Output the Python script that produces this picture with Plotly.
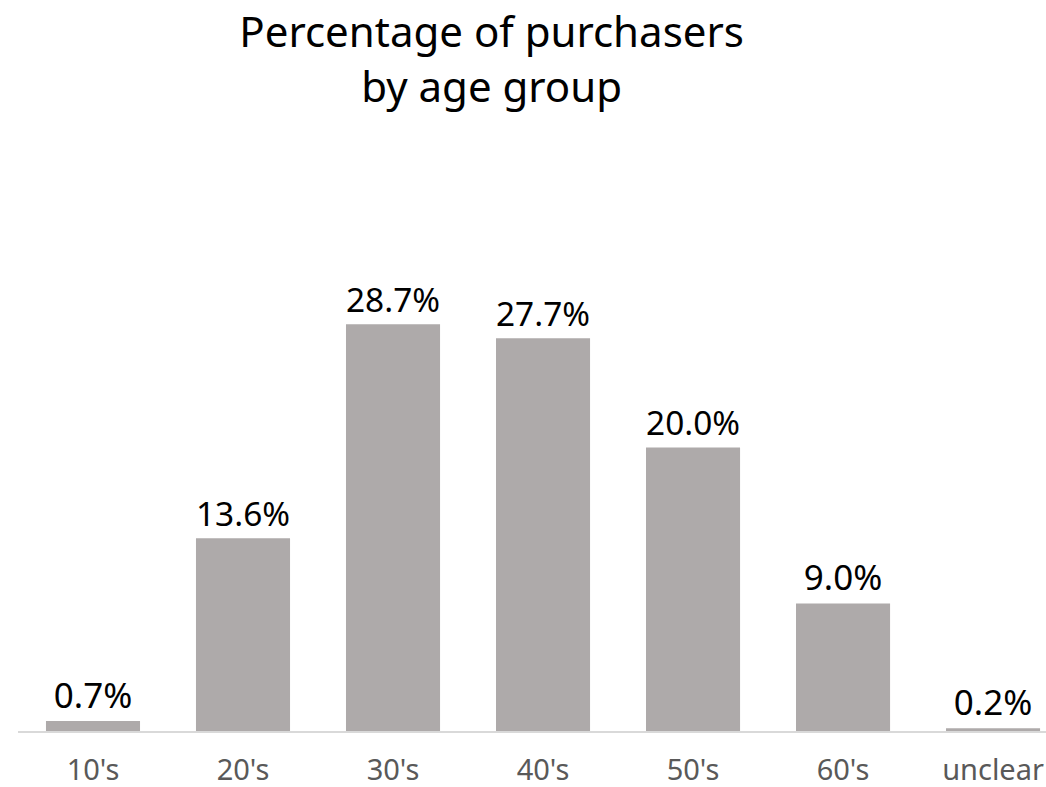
import plotly.graph_objects as go

# Share of purchasers per age bracket (percent)
age_groups = ["10's", "20's", "30's", "40's", "50's", "60's", "unclear"]
share_pct = [0.7, 13.6, 28.7, 27.7, 20.0, 9.0, 0.2]
value_labels = [f"{v:.1f}%" for v in share_pct]

FONT = "Noto Sans"

fig = go.Figure(
    go.Bar(
        x=age_groups,
        y=share_pct,
        text=value_labels,
        textposition="outside",
        cliponaxis=False,
        textfont=dict(family=FONT, size=35, color="#000000"),
        marker=dict(color="#AEAAAA", line=dict(width=0)),
        width=0.627,
    )
)

fig.update_layout(
    width=1046,
    height=787,
    paper_bgcolor="white",
    plot_bgcolor="white",
    margin=dict(l=18, r=0, t=120, b=56),
    showlegend=False,
    title=dict(
        text="Percentage of purchasers<br>by age group",
        x=0.47,
        xanchor="center",
        y=0.94,
        yanchor="middle",
        font=dict(family=FONT, size=42, color="#000000"),
    ),
    xaxis=dict(
        type="category",
        range=[-0.5, 6.353],
        automargin=False,
        showline=True,
        linecolor="#D9D9D9",
        linewidth=2,
        ticks="",
        showgrid=False,
        tickfont=dict(family=FONT, size=29, color="#595959"),
        ticklabelstandoff=12,
    ),
    yaxis=dict(
        range=[0, 43.1],
        visible=False,
        showgrid=False,
        zeroline=False,
    ),
)

fig.write_html("out.html")
